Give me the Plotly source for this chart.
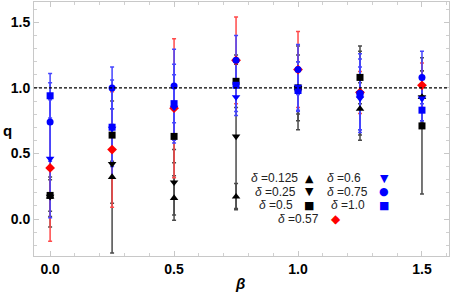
import plotly.graph_objects as go

beta = [0.0, 0.25, 0.5, 0.75, 1.0, 1.25, 1.5]

q_0125 = [0.17, 0.32, 0.16, 0.17, 1.00, 0.84, 0.93]
e_0125 = [0.23, 0.58, 0.17, 0.10, 0.32, 0.20, 0.20]
q_025 = [0.17, 0.42, 0.28, 0.63, 1.00, 0.96, 0.93]
e_025 = [0.15, 0.30, 0.25, 0.55, 0.25, 0.36, 0.20]
q_05 = [0.18, 0.64, 0.63, 1.05, 1.00, 1.08, 0.71]
e_05 = [0.12, 0.20, 0.20, 0.20, 0.20, 0.20, 0.52]
q_06 = [0.46, 0.69, 0.85, 0.93, 1.01, 0.92, 0.92]
e_06 = [0.45, 0.37, 0.25, 0.14, 0.19, 0.24, 0.17]
q_075 = [0.74, 1.00, 1.015, 1.21, 1.14, 0.96, 1.08]
e_075 = [0.30, 0.16, 0.28, 0.19, 0.19, 0.30, 0.20]
q_10 = [0.94, 0.70, 0.88, 1.02, 0.98, 0.95, 0.83]
e_10 = [0.17, 0.30, 0.30, 0.20, 0.15, 0.27, 0.08]
q_057 = [0.39, 0.53, 0.845, 1.21, 1.14, 0.965, 1.02]
e_057 = [0.56, 0.44, 0.53, 0.33, 0.29, 0.16, 0.17]

series = [
    ("0.125", q_0125, e_0125, "black", "#4a4a4a", "triangle-up", 7.5),
    ("0.25", q_025, e_025, "black", "#4a4a4a", "triangle-down", 7.5),
    ("0.5", q_05, e_05, "black", "#4a4a4a", "square", 7),
    ("0.57", q_057, e_057, "#ff0000", "#ff4a4a", "diamond", 7.5),
    ("0.6", q_06, e_06, "#0000ff", "#4545ff", "triangle-down", 7.5),
    ("0.75", q_075, e_075, "#0000ff", "#4545ff", "circle", 7),
    ("1.0", q_10, e_10, "#0000ff", "#4545ff", "square", 7),
]

fig = go.Figure()
# error bars first
for name, q, e, mc, ec, sym, sz in series:
    fig.add_trace(go.Scatter(
        x=beta, y=q, mode="markers", marker=dict(opacity=0, size=1),
        error_y=dict(type="data", array=e, color=ec, thickness=1.5, width=2),
        showlegend=False, hoverinfo="skip"))
# markers on top
for name, q, e, mc, ec, sym, sz in series:
    fig.add_trace(go.Scatter(
        x=beta, y=q, mode="markers", name="δ =" + name,
        marker=dict(symbol=sym, size=sz, color=mc, line=dict(width=0)),
        showlegend=False))

fig.add_hline(y=1.0, line=dict(color="black", width=1.2, dash="3px,2px"))

axcommon = dict(
    showgrid=False, zeroline=False, showline=True, linecolor="#c8c8c8", linewidth=1,
    mirror="ticks", ticks="inside", ticklen=5, tickcolor="#c8c8c8",
    tickfont=dict(family="Liberation Sans", size=14, color="black", weight="bold"),
    tickformat=".1f", dtick=0.5,
    minor=dict(dtick=0.1, ticks="inside", ticklen=3, tickcolor="#d0d0d0"),
)
fig.update_xaxes(range=[-0.065, 1.609], tick0=0, **axcommon)
fig.update_yaxes(range=[-0.282, 1.655], tick0=0, **axcommon)

fig.update_layout(
    width=450, height=295, margin=dict(l=34, r=1, t=2, b=39),
    plot_bgcolor="white", paper_bgcolor="white",
    font=dict(family="Liberation Sans", color="black"),
)

def px(x):
    return (x - 34) / 415.0

def py(y):
    return (256 - y) / 254.0

anns = []
anns.append(dict(text="<b>q</b>", x=px(8), y=py(130), font=dict(size=15)))
anns.append(dict(text="<b><i>β</i></b>", x=px(240), y=py(283), font=dict(size=15)))

rows = [178, 191.5, 205, 218.5]
legend_items = [
    ("0.125", "▲", "black", 274, 309, rows[0]),
    ("0.25", "▼", "black", 275, 309, rows[1]),
    ("0.5", "■", "black", 276, 309, rows[2]),
    ("0.6", "▼", "#0000ff", 344, 384, rows[0]),
    ("0.75", "●", "#0000ff", 347, 384, rows[1]),
    ("1.0", "■", "#0000ff", 348, 384, rows[2]),
    ("0.57", "◆", "#ff0000", 298, 336, rows[3]),
]
for val, sym, col, tx, sx, ry in legend_items:
    anns.append(dict(text="<i>δ</i> =" + val, x=px(tx), y=py(ry),
                     font=dict(size=12, color="#222")))
    anns.append(dict(text=sym, x=px(sx), y=py(ry),
                     font=dict(size=12 if sym == "◆" else 11, color=col, family="DejaVu Sans")))

for a in anns:
    a.update(xref="paper", yref="paper", showarrow=False, xanchor="center", yanchor="middle")
    fig.add_annotation(**a)

fig.write_html("out.html", config={"displayModeBar": False},
               post_script="document.body.style.margin='0';document.body.style.overflow='hidden';")
